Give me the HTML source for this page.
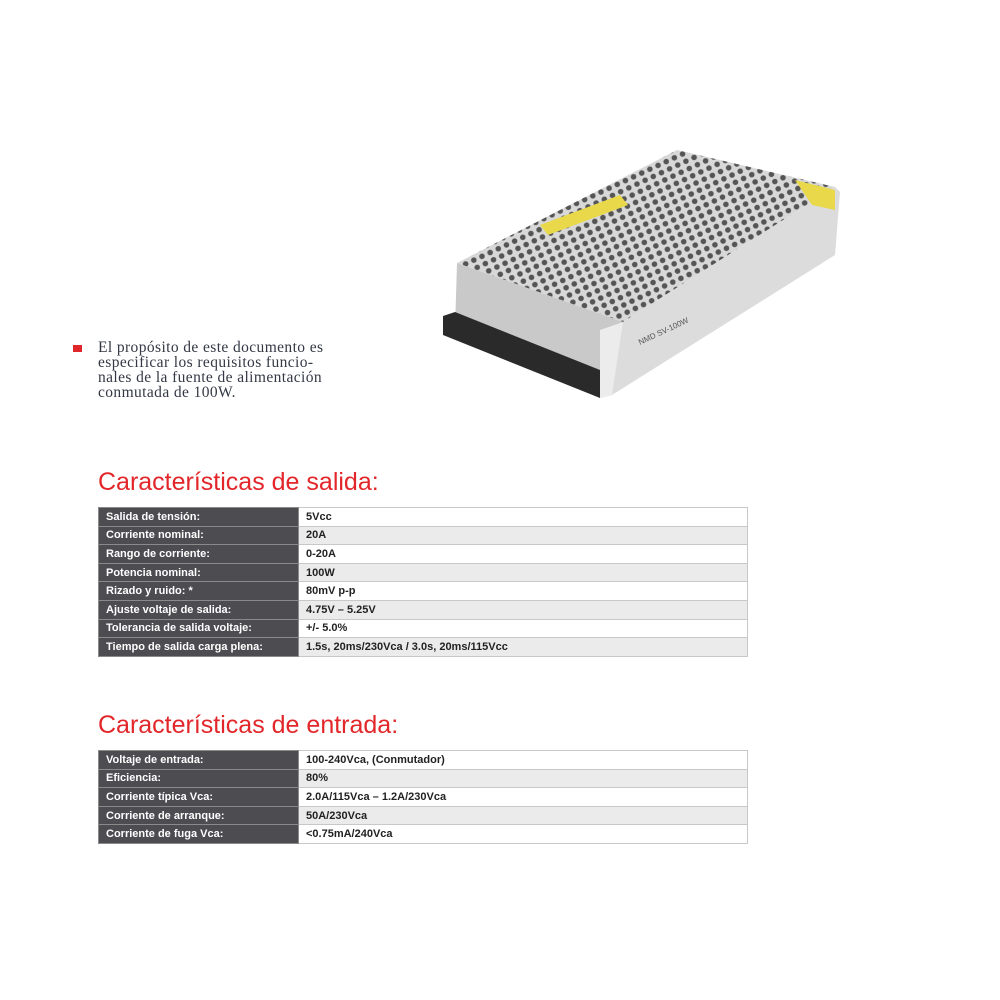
<!DOCTYPE html>
<html><head><meta charset="utf-8"><style>
body{margin:0;background:#fff;width:1000px;height:1000px;position:relative;overflow:hidden;font-family:"Liberation Sans",sans-serif}
.intro{position:absolute;left:98px;top:340px;font-family:"Liberation Serif",serif;font-size:15.5px;line-height:15px;color:#333844;white-space:nowrap;letter-spacing:0.4px}
.bullet{position:absolute;left:73px;top:345px;width:9px;height:7px;background:#e0262b}
h2{position:absolute;left:98px;margin:0;font-weight:normal;color:#e2262a;font-size:25px}
table{position:absolute;left:98px;border-collapse:collapse;width:650px;font-size:11px;font-weight:bold}
tr{height:18.6px}
td{height:18.6px;padding:0 0 0 7px;border:1px solid #c8c8c8;box-sizing:border-box}
td.l{background:#4c4c51;color:#fff;width:200px;border-color:#8a8a8a}
tr:nth-child(even) td.v{background:#ebebeb}
td.v{color:#222;background:#fff}
</style></head><body>
<svg style="position:absolute;left:0;top:0" width="1000" height="1000">
<defs><pattern id="h" width="9" height="8" patternUnits="userSpaceOnUse" patternTransform="rotate(-25)"><rect width="9" height="8" fill="#d8d8d8"/><circle cx="4.5" cy="4" r="2.8" fill="#555"/></pattern></defs>
<polygon points="457,263 677,150 835,187 623,322" fill="url(#h)"/>
<polygon points="835,187 840,192 835,255 612,395 623,322" fill="#dcdcdc"/>
<polygon points="457,263 623,322 612,395 600,398 455,330" fill="#c9c9c9"/>
<polygon points="443,316 455,312 600,370 600,398 443,335" fill="#2a2a2a"/>
<polygon points="600,330 623,322 612,395 600,398" fill="#ececec"/>
<polygon points="540,225 620,195 628,205 548,235" fill="#e8d84a"/>
<polygon points="795,180 835,190 835,210 812,205" fill="#e8d84a"/>
<text x="640" y="345" font-size="8" fill="#555" transform="rotate(-25 640 345)">NMD  SV-100W</text>
</svg>
<div class="bullet"></div>
<div class="intro">El propósito de este documento es<br>especificar los requisitos funcio-<br>nales de la fuente de alimentación<br>conmutada de 100W.</div>
<h2 style="top:468px">Características de salida:</h2>
<table style="top:507px">
<tr><td class="l">Salida de tensión:</td><td class="v">5Vcc</td></tr>
<tr><td class="l">Corriente nominal:</td><td class="v">20A</td></tr>
<tr><td class="l">Rango de corriente:</td><td class="v">0-20A</td></tr>
<tr><td class="l">Potencia nominal:</td><td class="v">100W</td></tr>
<tr><td class="l">Rizado y ruido: *</td><td class="v">80mV p-p</td></tr>
<tr><td class="l">Ajuste voltaje de salida:</td><td class="v">4.75V – 5.25V</td></tr>
<tr><td class="l">Tolerancia de salida voltaje:</td><td class="v">+/- 5.0%</td></tr>
<tr><td class="l">Tiempo de salida carga plena:</td><td class="v">1.5s, 20ms/230Vca / 3.0s, 20ms/115Vcc</td></tr>
</table>
<h2 style="top:711px">Características de entrada:</h2>
<table style="top:750px">
<tr><td class="l">Voltaje de entrada:</td><td class="v">100-240Vca, (Conmutador)</td></tr>
<tr><td class="l">Eficiencia:</td><td class="v">80%</td></tr>
<tr><td class="l">Corriente típica Vca:</td><td class="v">2.0A/115Vca – 1.2A/230Vca</td></tr>
<tr><td class="l">Corriente de arranque:</td><td class="v">50A/230Vca</td></tr>
<tr><td class="l">Corriente de fuga Vca:</td><td class="v">&lt;0.75mA/240Vca</td></tr>
</table>
</body></html>
